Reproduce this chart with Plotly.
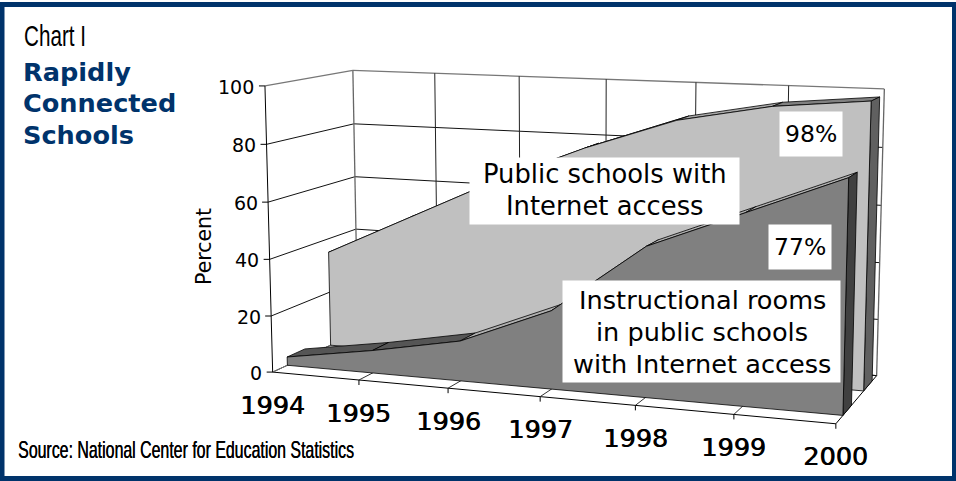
import numpy as np
import plotly.graph_objects as go

years = ["1994", "1995", "1996", "1997", "1998", "1999", "2000"]
public_schools = [35, 50, 65, 78, 89, 95, 98]
instructional_rooms = [3, 8, 14, 27, 51, 64, 77]
value_ticks = [0, 20, 40, 60, 80, 100]

NAVY = "#00336b"

# Camera: fitted from (category fraction, value fraction, depth fraction) -> page pixel
calibration = [
    (0, 0, 0, 273, 371), (1, 0, 0, 836, 424), (0, 1, 0, 265, 88), (0, 0, 1, 358, 334),
    (1, 0, 1, 877, 376), (1, 1, 1, 886, 89), (0, 1, 1, 352, 70),
    (1/6, 0, 0, 359, 379), (2/6, 0, 0, 448, 388), (3/6, 0, 0, 541, 397), (5/6, 0, 0, 734, 416),
    (1/6, 1, 1, 436, 73), (2/6, 1, 1, 519, 76), (3/6, 1, 1, 606, 79), (4/6, 1, 1, 697, 83), (5/6, 1, 1, 789, 86),
    (0, .8, 1, 354, 124), (0, .6, 1, 355, 177), (1, .8, 1, 881, 146), (1, .6, 1, 880, 205), (1, .4, 1, 879, 262),
    (0, .8, 0, 266, 144), (0, .6, 0, 268, 202), (0, .4, 0, 269, 259), (0, .2, 0, 271, 315),
]
A, b = [], []
for u, v, w, x, y in calibration:
    A.append([u, v, w, 1, 0, 0, 0, 0, -x*u, -x*v, -x*w]); b.append(x)
    A.append([0, 0, 0, 0, u, v, w, 1, -y*u, -y*v, -y*w]); b.append(y)
P = np.append(np.linalg.lstsq(np.array(A, float), np.array(b, float), rcond=None)[0], 1).reshape(3, 4)


def project(u, v, w):
    h = P @ np.array([u, v, w, 1.0])
    return h[0] / h[2], h[1] / h[2]


n = len(years)
fig = go.Figure()


def poly(pts, fill=None, color="#000", width=1.0, close=False):
    xy = [project(*p) for p in pts]
    xs = [p[0] for p in xy]
    ys = [p[1] for p in xy]
    if close:
        xs.append(xs[0]); ys.append(ys[0])
    fig.add_trace(go.Scatter(x=xs, y=ys, mode="lines", hoverinfo="skip", showlegend=False,
                             line=dict(color=color, width=width),
                             fill="toself" if fill else None, fillcolor=fill))


def frac(i):
    return i / (n - 1)


# Back wall and side wall grid
for t in value_ticks:
    v = t / 100
    edge = t == 100
    poly([(0, v, 1), (1, v, 1)], color="#777" if edge else "#111", width=1.3 if edge else 1)
    poly([(0, v, 0), (0, v, 1)], color="#777" if edge else "#111", width=1.3 if edge else 1)
for i in range(n):
    poly([(frac(i), 0, 1), (frac(i), 1, 1)], color="#666" if i in (0, n - 1) else "#222", width=1.3 if i in (0, n - 1) else 1)
# Floor
poly([(0, 0, 0), (1, 0, 0)], color="#000")
poly([(1, 0, 0), (1, 0, 1)], color="#000")
poly([(0, 0, 0), (0, 0, 1)], color="#777")
poly([(0, 0, 1), (1, 0, 1)], color="#111")
for i in range(1, n - 1):
    poly([(frac(i), 0, 0), (frac(i), 0, 1)], color="#333")
poly([(0, 0, 0), (0, 1, 0)], color="#000")


def ribbon(values, wf, wb, face, tops, end):
    m = [val / 100 for val in values]
    for i in range(n - 1):
        poly([(frac(i), m[i], wf), (frac(i + 1), m[i + 1], wf), (frac(i + 1), m[i + 1], wb), (frac(i), m[i], wb)],
             fill=tops[i], close=True, width=0.8)
    poly([(1, 0, wf), (1, m[-1], wf), (1, m[-1], wb), (1, 0, wb)], fill=end, close=True, width=0.8)
    front = [(0, 0, wf)] + [(frac(i), m[i], wf) for i in range(n)] + [(1, 0, wf)]
    poly(front, fill=face, close=True, width=0.8)


ribbon(public_schools, 0.66, 0.88, "#c0c0c0",
       ["#9a9a9a", "#9a9a9a", "#9a9a9a", "#9a9a9a", "#a8a8a8", "#808080"], "#606060")
ribbon(instructional_rooms, 0.16, 0.36, "#808080",
       ["#555555", "#555555", "#b0b0b0", "#b0b0b0", "#b0b0b0", "#b0b0b0"], "#404040")

# Tick marks
for t in value_ticks:
    x, y = project(0, t / 100, 0)
    fig.add_trace(go.Scatter(x=[x - 6, x], y=[y, y], mode="lines", hoverinfo="skip", showlegend=False,
                             line=dict(color="#000", width=1)))
for i in range(1, n):
    x, y = project(frac(i), 0, 0)
    fig.add_trace(go.Scatter(x=[x, x], y=[y, y + 5], mode="lines", hoverinfo="skip", showlegend=False,
                             line=dict(color="#000", width=1)))

ann = []


def text(x, y, s, size, family="DejaVu Sans", color="#000", angle=0, anchor="center", shadow=None, **kw):
    font = dict(family=family, size=size, color=color)
    if shadow:
        font["shadow"] = shadow
    ann.append(dict(x=x, y=y, text=s, showarrow=False, xref="x", yref="y", xanchor=anchor, yanchor="middle",
                    font=font, textangle=angle, **kw))


def white_box(x0, y0, x1, y1):
    ann.append(dict(x=(x0 + x1) / 2, y=(y0 + y1) / 2, text=" ", showarrow=False, xref="x", yref="y",
                    xanchor="center", yanchor="middle", width=x1 - x0, height=y1 - y0, bgcolor="#fff", borderpad=0))


for t in value_ticks:
    x, y = project(0, t / 100, 0)
    text(x - 8.5, y + 1, str(t), 19, anchor="right")
for i, yr in enumerate(years):
    x, y = project(frac(i), 0, 0)
    text(x, y + 32.5, yr, 25.5, shadow="0.7px 0 0 #000")

text(204, 247, "Percent", 20.5, angle=-90)
text(22, 36, "Chart I", 29, family="Liberation Sans", anchor="left")
for line, y in zip(["Rapidly", "Connected", "Schools"], [72, 103, 135]):
    text(20.5, y, f"<b>{line}</b>", 25.6, color=NAVY, anchor="left")
text(16, 450, "Source: National Center for Education Statistics", 23, family="Liberation Sans", anchor="left",
     shadow="0.3px 0 0 #000")

white_box(470, 158, 739, 224)
for line, y in zip(["Public schools with", "Internet access"], [174, 205.5]):
    text(604.5, y, line, 25.8)
white_box(780, 112, 842, 156)
text(811, 134, "98%", 23.5)
white_box(769, 225, 831, 269)
text(800, 247, "77%", 23.5)
white_box(563, 281, 840, 382)
for line, y in zip(["Instructional rooms", "in public schools", "with Internet access"], [300, 332, 363.5]):
    text(702, y, line, 25.6)

frame = dict(type="rect", xref="x", yref="y", x0=2, y0=4.5, x1=954.5, y1=478.5,
             line=dict(color=NAVY, width=5), fillcolor="rgba(0,0,0,0)", layer="above")

fig.update_layout(width=956, height=481, margin=dict(l=0, r=0, t=0, b=0), paper_bgcolor="#fff", plot_bgcolor="#fff",
                  xaxis=dict(range=[0, 956], visible=False, fixedrange=True),
                  yaxis=dict(range=[481, 0], visible=False, fixedrange=True),
                  showlegend=False, annotations=ann, shapes=[frame])

# The original uses a condensed face; no such font is installed, so narrow the real text horizontally.
condense = """
document.body.style.margin='0';document.body.style.overflow='hidden';
var targets=[['Chart I',62],['Source:',336]];
document.querySelectorAll('.annotation-text').forEach(function(t){
  targets.forEach(function(p){
    if(t.textContent.indexOf(p[0])===0){
      var b=t.getBBox(),s=p[1]/b.width;
      t.setAttribute('transform','translate('+(b.x*(1-s))+',0) scale('+s+',1)');
    }
  });
});
"""
fig.write_html("out.html", config={"displayModeBar": False}, post_script=condense)
